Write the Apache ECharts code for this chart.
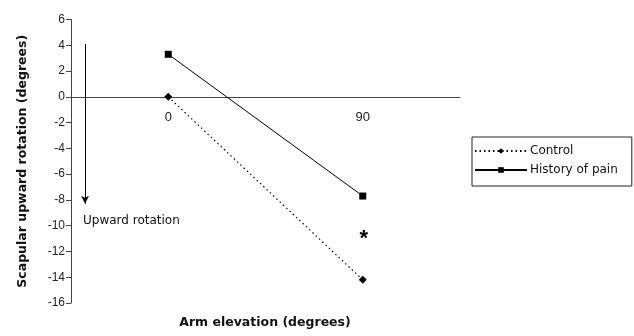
<!DOCTYPE html>
<html><head><meta charset="utf-8">
<script src="https://cdn.jsdelivr.net/npm/echarts@6/dist/echarts.min.js"></script>
<style>html,body{margin:0;padding:0;background:#fff}#c{width:634px;height:336px}</style>
</head><body><div id="c"></div>
<script>
var categories = ['0', '90'];
var controlValues = [0, -14.2];
var painValues = [3.3, -7.7];
var yTicks = {min: -16, max: 6, interval: 2};
var arrowX = 3.6;          // position on hidden 0-100 helper axis
var arrowFrom = 4.1, arrowTo = -8.3;
var arrowLabel = 'Upward rotation';
var arrowLabelY = -9.6;
var sigMark = '*';
var sigY = -10.9;
var xTitle = 'Arm elevation (degrees)';
var yTitle = 'Scapular upward rotation (degrees)';

var gridTop = 19.5, gridBottom = 33, H = 336;
var plotH = H - gridTop - gridBottom;
// move the category axis up onto the y = 0 line
var zeroOffset = -plotH * (0 - yTicks.min) / (yTicks.max - yTicks.min);

var chart = echarts.init(document.getElementById('c'));
var font = 'Liberation Sans, Arial, sans-serif';
var wide = 'DejaVu Sans, sans-serif';
var hiddenMark = {symbol: 'rect', symbolSize: 1, itemStyle: {color: 'rgba(0,0,0,0)'}};
chart.setOption({
  animation: false,
  textStyle: {fontFamily: font},
  title: {
    text: xTitle, left: 265, top: 316, textAlign: 'center', padding: 0,
    textStyle: {fontFamily: wide, fontWeight: 'bold', fontSize: 12.5, color: '#111'}
  },
  grid: {left: 71, right: 174, top: gridTop, bottom: gridBottom},
  xAxis: [{
    type: 'category', data: categories, boundaryGap: true, position: 'bottom',
    offset: zeroOffset,
    axisLine: {onZero: false, lineStyle: {color: '#444', width: 1}},
    axisTick: {show: false},
    axisLabel: {color: '#222', fontSize: 13, margin: 14, fontFamily: font},
    splitLine: {show: false}
  }, {
    type: 'value', min: 0, max: 100, position: 'top', show: false
  }],
  yAxis: {
    type: 'value', min: yTicks.min, max: yTicks.max, interval: yTicks.interval,
    axisLine: {show: true, onZero: false, lineStyle: {color: '#444'}},
    axisTick: {show: true, length: 5, lineStyle: {color: '#444'}},
    axisLabel: {color: '#222', fontSize: 12, margin: 6, fontFamily: font},
    splitLine: {show: false},
    name: yTitle, nameLocation: 'middle', nameGap: 42,
    nameTextStyle: {fontWeight: 'bold', fontSize: 12.5, color: '#111', fontFamily: wide}
  },
  legend: {
    orient: 'vertical', left: 472, top: 137,
    borderColor: '#222', borderWidth: 1, padding: [8, 14, 10, 2],
    itemWidth: 52, itemHeight: 7, itemGap: 7,
    textStyle: {fontSize: 12, color: '#111', fontFamily: wide, padding: [0, 0, 0, -2]},
    data: ['Control', 'History of pain']
  },
  series: [{
    name: 'Control', type: 'line', data: controlValues,
    symbol: 'diamond', symbolSize: 8,
    itemStyle: {color: '#000'},
    lineStyle: {color: '#000', width: 1.2, type: [1.5, 3]}
  }, {
    name: 'History of pain', type: 'line', data: painValues,
    symbol: 'rect', symbolSize: 7,
    itemStyle: {color: '#000'},
    lineStyle: {color: '#000', width: 1, type: 'solid'},
    markPoint: Object.assign({
      silent: true,
      label: {show: true, position: 'inside', formatter: sigMark, fontSize: 22, fontWeight: 'bold', color: '#000', offset: [1, 2], fontFamily: font},
      data: [{coord: ['90', sigY]}]
    }, hiddenMark)
  }, {
    name: 'annot', type: 'line', xAxisIndex: 1, data: [], silent: true,
    markLine: {
      silent: true, symbol: ['none', 'arrow'], symbolSize: [6, 8],
      lineStyle: {color: '#000', width: 1, type: 'solid'},
      label: {show: false},
      data: [[{coord: [arrowX, arrowFrom]}, {coord: [arrowX, arrowTo]}]]
    },
    markPoint: Object.assign({
      silent: true,
      label: {show: true, formatter: arrowLabel, fontSize: 12, color: '#111', align: 'left', position: 'inside', fontFamily: wide, offset: [-2, 0]},
      data: [{coord: [arrowX, arrowLabelY]}]
    }, hiddenMark)
  }]
});
</script></body></html>
